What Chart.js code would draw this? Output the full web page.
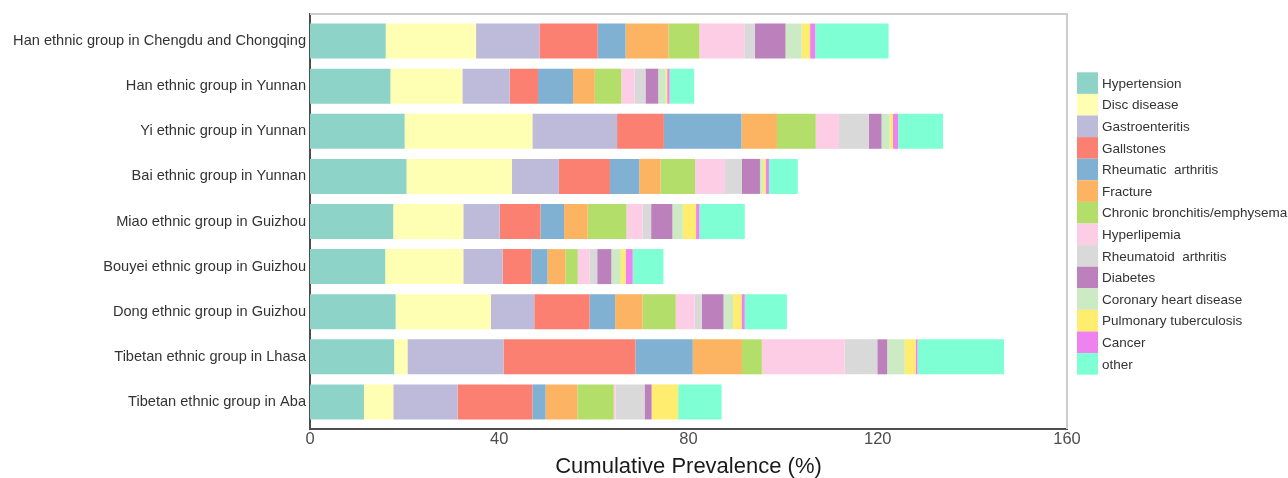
<!DOCTYPE html>
<html>
<head>
<meta charset="utf-8">
<title>Cumulative prevalence of chronic diseases by ethnic group</title>
<script src="https://cdn.jsdelivr.net/npm/chart.js@4.4.1/dist/chart.umd.min.js"></script>
<style>
  body { margin: 0; background: #fff; }
  #wrap { width: 1288px; height: 478px; }
</style>
</head>
<body>
<div id="wrap"><canvas id="prevalenceChart" width="1288" height="478"></canvas></div>
<script>
// ethnic groups, top to bottom
const groups = [
  'Han ethnic group in Chengdu and Chongqing',
  'Han ethnic group in Yunnan',
  'Yi ethnic group in Yunnan',
  'Bai ethnic group in Yunnan',
  'Miao ethnic group in Guizhou',
  'Bouyei ethnic group in Guizhou',
  'Dong ethnic group in Guizhou',
  'Tibetan ethnic group in Lhasa',
  'Tibetan ethnic group in Aba'
];

const diseases = [
  'Hypertension', 'Disc disease', 'Gastroenteritis', 'Gallstones',
  'Rheumatic  arthritis', 'Fracture', 'Chronic bronchitis/emphysema',
  'Hyperlipemia', 'Rheumatoid  arthritis', 'Diabetes',
  'Coronary heart disease', 'Pulmonary tuberculosis', 'Cancer', 'other'
];

const colors = [
  '#8DD3C7', '#FFFFB3', '#BEBADA', '#FB8072', '#80B1D3', '#FDB462', '#B3DE69',
  '#FCCDE5', '#D9D9D9', '#BC80BD', '#CCEBC5', '#FFED6F', '#EE82EE', '#7FFFD4'
];

// prevalence (%) per group, same order as groups
const hypertension = [16.0, 17.0, 20.0, 20.4, 17.6, 15.9, 18.1, 17.8, 11.4];
const discDisease  = [19.1, 15.2, 27.0, 22.3, 14.8, 16.5, 20.1, 2.8, 6.2];
const gastro       = [13.4, 10.0, 17.9, 9.9, 7.7, 8.3, 9.2, 20.3, 13.6];
const gallstones   = [12.3, 6.0, 9.9, 10.8, 8.6, 6.1, 11.7, 27.9, 15.8];
const rheumatic    = [5.9, 7.4, 16.4, 6.2, 5.0, 3.4, 5.4, 12.1, 2.8];
const fracture     = [9.1, 4.6, 7.5, 4.5, 5.0, 3.8, 5.8, 10.4, 6.7];
const bronchitis   = [6.5, 5.6, 8.2, 7.3, 8.2, 2.6, 7.0, 4.2, 7.7];
const hyperlipemia = [9.5, 2.8, 4.9, 6.3, 3.4, 2.5, 4.0, 17.5, 0.4];
const rheumatoid   = [2.2, 2.3, 6.3, 3.6, 1.8, 1.6, 1.5, 6.9, 6.1];
const diabetes     = [6.5, 2.7, 2.7, 3.8, 4.5, 3.0, 4.6, 2.1, 1.5];
const coronary     = [3.4, 1.6, 1.7, 0.6, 2.2, 2.0, 2.0, 3.7, 0];
const tuberculosis = [1.8, 0.3, 0.7, 0.6, 2.8, 1.0, 1.8, 2.3, 5.6];
const cancer       = [1.1, 0.5, 1.1, 0.7, 0.7, 1.5, 0.7, 0.4, 0];
const other        = [15.5, 5.2, 9.5, 6.1, 9.6, 6.5, 8.9, 18.3, 9.2];

const series = [hypertension, discDisease, gastro, gallstones, rheumatic, fracture,
  bronchitis, hyperlipemia, rheumatoid, diabetes, coronary, tuberculosis, cancer, other];

const xTicks = [0, 40, 80, 120, 160];

const family = '"Liberation Sans", Arial, Helvetica, sans-serif';

// grey frame on the top and right of the panel
const panelFrame = {
  id: 'panelFrame',
  afterDatasetsDraw(chart) {
    const { ctx, chartArea: a } = chart;
    ctx.save();
    ctx.strokeStyle = '#cccccc';
    ctx.lineWidth = 2;
    ctx.beginPath();
    ctx.moveTo(a.left, a.top);
    ctx.lineTo(a.right, a.top);
    ctx.lineTo(a.right, a.bottom);
    ctx.stroke();
    ctx.restore();
  }
};

// legend on the right, keys touching each other like ggplot
const sideLegend = {
  id: 'sideLegend',
  afterDraw(chart) {
    const { ctx, chartArea } = chart;
    const sets = chart.data.datasets;
    const key = 21, rowH = 21.6;
    const x = chartArea.right + 10;
    let y = (chartArea.top + chartArea.bottom) / 2 - sets.length * rowH / 2 + 2;
    ctx.save();
    ctx.font = '13.5px ' + family;
    ctx.textBaseline = 'middle';
    sets.forEach((ds) => {
      ctx.fillStyle = ds.backgroundColor;
      ctx.fillRect(x, y, key, rowH);
      ctx.fillStyle = '#333333';
      ctx.fillText(ds.label, x + key + 4, y + rowH / 2 + 1);
      y += rowH;
    });
    ctx.restore();
  }
};

const ctx = document.getElementById('prevalenceChart').getContext('2d');
new Chart(ctx, {
  type: 'bar',
  data: {
    datasets: diseases.map((name, k) => ({
      label: name,
      data: groups.map((g, i) => ({ x: series[k][i], y: i })),
      backgroundColor: colors[k],
      borderWidth: 0,
      categoryPercentage: 1,
      barPercentage: 0.776
    }))
  },
  options: {
    indexAxis: 'y',
    responsive: false,
    animation: false,
    layout: { padding: { left: 0, right: 221, top: 14, bottom: 0 } },
    plugins: {
      legend: { display: false },
      tooltip: { enabled: false }
    },
    scales: {
      x: {
        type: 'linear',
        stacked: true,
        min: 0,
        max: 160,
        z: 1,
        afterBuildTicks: (s) => { s.ticks = xTicks.map((v) => ({ value: v })); },
        afterFit: (s) => { s.height = 49; },
        grid: { display: false, drawTicks: false },
        border: { color: '#4d4d4d', width: 2 },
        ticks: { padding: 1, color: '#4d4d4d', font: { size: 16.5, family } },
        title: {
          display: true,
          text: 'Cumulative Prevalence (%)',
          color: '#1a1a1a',
          font: { size: 22, family },
          padding: { top: 0, bottom: -2 }
        }
      },
      y: {
        type: 'linear',
        stacked: true,
        reverse: true,
        offset: false,
        min: -0.6,
        max: groups.length - 0.4,
        z: 1,
        afterBuildTicks: (s) => { s.ticks = groups.map((g, i) => ({ value: i })); },
        afterFit: (s) => { s.width = 310; },
        grid: { display: false, drawTicks: false, offset: false },
        border: { color: '#4d4d4d', width: 2 },
        ticks: {
          padding: 4,
          color: '#333333',
          font: { size: 14.6, family },
          callback: (v) => groups[v]
        }
      }
    }
  },
  plugins: [panelFrame, sideLegend]
});
</script>
</body>
</html>
